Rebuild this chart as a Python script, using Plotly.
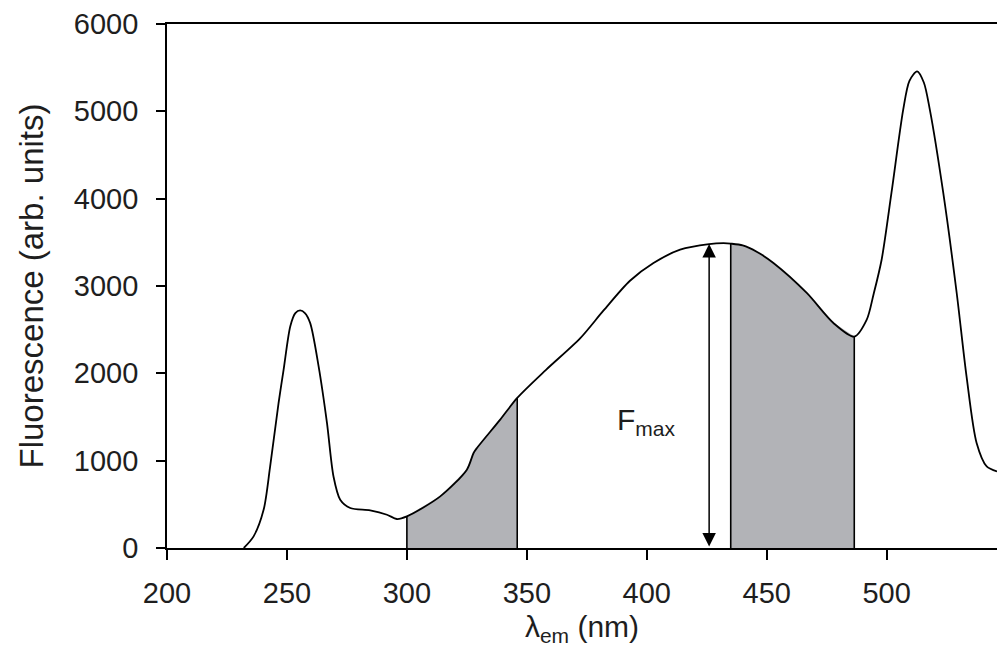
import plotly.graph_objects as go

# Emission wavelength (nm) and fluorescence (arb. units)
wavelength = [232, 236.1, 240.3, 243, 246.5, 248.6, 251.4, 253.5, 255.5, 257.5, 259.7,
              263.2, 266.7, 269.4, 272.2, 276.4, 284.7, 291.7, 295.8, 300, 313.9, 325,
              327.8, 329.2, 338.9, 346, 358, 372.2, 382, 393, 402.8, 413.9, 426, 432,
              435, 440, 446, 452.8, 466.7, 477.8, 486.5, 491.7, 494.5, 497.9, 502, 506.9,
              509.5, 512.7, 515.5, 518, 523.6, 529.2, 533.3, 537.5, 541.7, 546]
fluorescence = [0, 133, 440, 935, 1660, 2040, 2540, 2690, 2720, 2690, 2575,
                2080, 1430, 820, 553, 458, 430, 381, 332, 362, 591, 897,
                1088, 1145, 1470, 1718, 2040, 2400, 2720, 3060, 3263, 3416, 3480, 3490,
                3485, 3465, 3390, 3263, 2920, 2576, 2420, 2614, 2900, 3301, 4065, 5019,
                5350, 5457, 5330, 5019, 4065, 2920, 1965, 1202, 934, 877]

# Integration windows (nm) and Fmax marker
window_1 = [300, 346]
window_2 = [435, 486.5]
fmax_wavelength = 426
fmax_value = 3480

x_ticks = [200, 250, 300, 350, 400, 450, 500]
y_ticks = [0, 1000, 2000, 3000, 4000, 5000, 6000]

FONT = "Liberation Sans, Arial, Helvetica, sans-serif"
FILL = "#b2b3b7"
TXT = "#1e1e1e"

fig = go.Figure()

for lo, hi in (window_1, window_2):
    xs = [w for w in wavelength if lo <= w <= hi]
    ys = [f for w, f in zip(wavelength, fluorescence) if lo <= w <= hi]
    # gray area under the curve
    fig.add_trace(go.Scatter(
        x=[xs[0]] + xs + [xs[-1], xs[0]],
        y=[0] + ys + [0, 0],
        mode="lines", fill="toself", fillcolor=FILL,
        line=dict(color=FILL, width=0.5),
        hoverinfo="skip", showlegend=False))
    # vertical edges of the window
    fig.add_trace(go.Scatter(
        x=[xs[0], xs[0], None, xs[-1], xs[-1]],
        y=[0, ys[0], None, 0, ys[-1]],
        mode="lines", line=dict(color="black", width=1.6),
        hoverinfo="skip", showlegend=False))

fig.add_trace(go.Scatter(x=wavelength, y=fluorescence, mode="lines",
                         line=dict(color="black", width=1.8, shape="spline", smoothing=0.8),
                         showlegend=False))

# double headed Fmax arrow
fig.add_annotation(x=fmax_wavelength, y=fmax_value, ax=fmax_wavelength, ay=0,
                   xref="x", yref="y", axref="x", ayref="y", text="",
                   showarrow=True, arrowhead=2, startarrowhead=2, arrowside="end+start",
                   arrowsize=1.8, startarrowsize=1.8, arrowwidth=1.5, arrowcolor="black",
                   standoff=0, startstandoff=0)
fig.add_annotation(x=400, y=1450, xref="x", yref="y", text="F<sub>max</sub>",
                   showarrow=False, font=dict(family=FONT, size=30, color=TXT))

fig.update_layout(
    width=997, height=659,
    margin=dict(l=167, r=0, t=24, b=111),
    paper_bgcolor="white", plot_bgcolor="white",
    font=dict(family=FONT, color=TXT),
    xaxis=dict(range=[200, 546], tickvals=x_ticks, ticks="outside", ticklen=10,
               tickwidth=1.6, tickcolor="black", showline=True, linecolor="black",
               linewidth=1.8, mirror=True, showgrid=False, zeroline=False,
               tickfont=dict(size=29, family=FONT, color=TXT), ticklabelstandoff=8,
               title=dict(text="λ<sub>em</sub> (nm)", font=dict(size=30, family=FONT, color=TXT),
                          standoff=8)),
    yaxis=dict(range=[0, 6000], tickvals=y_ticks, ticks="outside", ticklen=9,
               tickwidth=1.6, tickcolor="black", showline=True, linecolor="black",
               linewidth=1.8, mirror=False, showgrid=False, zeroline=False,
               tickfont=dict(size=29, family=FONT, color=TXT), ticklabelstandoff=12,
               title=dict(text="Fluorescence (arb. units)",
                          font=dict(size=33, family=FONT, color=TXT), standoff=20)),
)

fig.write_html("out.html")
